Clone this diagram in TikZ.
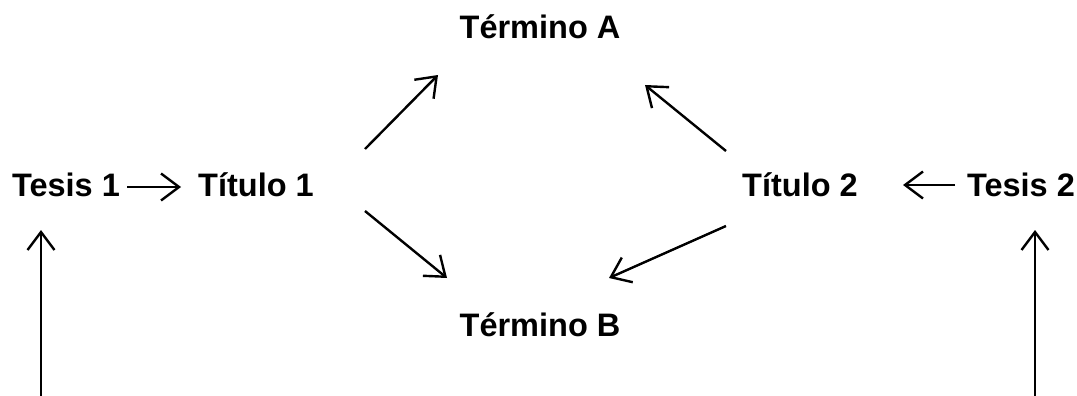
\documentclass[tikz,border=0pt]{standalone}
\usepackage{fontspec}
\setmainfont{Liberation Sans}
\usetikzlibrary{arrows.meta}
\begin{document}
\begin{tikzpicture}[x=1pt,y=-1pt,
  lbl/.style={font=\fontsize{32.5}{38}\selectfont\bfseries, inner sep=0pt, anchor=base},
  conn/.style={line width=2.4pt, -{Straight Barb[length=18pt,width=27pt,line width=2.4pt]}}]
\useasboundingbox (0,0) rectangle (1077,396);
\node[lbl] (tes1) at (66,196) {Tesis 1};
\node[lbl] (tit1) at (256,196) {Título 1};
\node[lbl] (tit2) at (800,196) {Título 2};
\node[lbl] (tes2) at (1021,196) {Tesis 2};
\node[lbl] (ta) at (540,39) {Término A};
\node[lbl] (tb) at (540,336) {Término B};
\coordinate (a1) at (127,187); \coordinate (a2) at (181,187);
\coordinate (b1) at (955,185); \coordinate (b2) at (903,185);
\coordinate (c1) at (365,149); \coordinate (c2) at (438,75);
\coordinate (d1) at (365,211); \coordinate (d2) at (447,278);
\coordinate (e1) at (726,151); \coordinate (e2) at (645,85);
\coordinate (f1) at (726,226); \coordinate (f2) at (609,278);
\coordinate (g1) at (41,396); \coordinate (g2) at (41,230);
\coordinate (h1) at (1035,396); \coordinate (h2) at (1035,230);
\draw[conn] (a1) -- (a2);
\draw[conn] (b1) -- (b2);
\draw[conn] (c1) -- (c2);
\draw[conn] (d1) -- (d2);
\draw[conn] (e1) -- (e2);
\draw[conn] (f1) -- (f2);
\draw[conn] (g1) -- (g2);
\draw[conn] (h1) -- (h2);
\end{tikzpicture}
\end{document}
